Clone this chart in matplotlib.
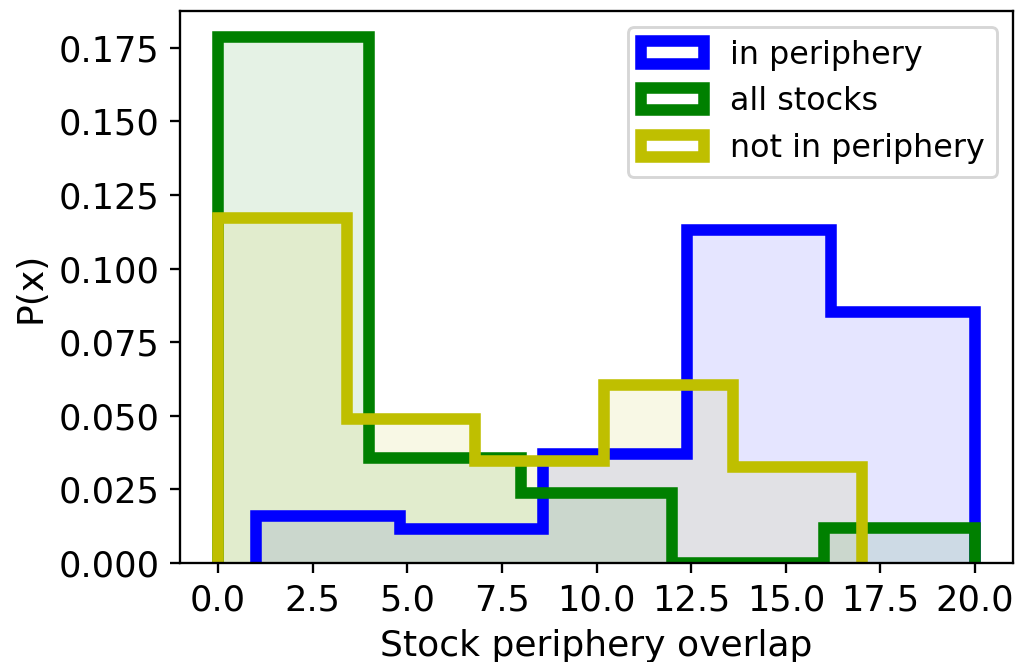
"""Periphery overlap histograms: in periphery vs all stocks vs not in periphery."""
import matplotlib
matplotlib.use("Agg")
import matplotlib.pyplot as plt
from matplotlib.ticker import MultipleLocator
import numpy as np

# bin edges and densities
IN_EDGES = [1.0, 4.8, 8.6, 12.4, 16.2, 20.0]
IN_VALS = [0.0161, 0.0115, 0.0369, 0.1130, 0.0853]

ALL_EDGES = [0.0, 4.0, 8.0, 12.0, 16.0, 20.0]
ALL_VALS = [0.1786, 0.0356, 0.0238, 0.0, 0.0119]

NOT_EDGES = [0.0, 3.4, 6.8, 10.2, 13.6, 17.0]
NOT_VALS = [0.1171, 0.0489, 0.0346, 0.0604, 0.0326]

SERIES = [
    ("in periphery", IN_EDGES, IN_VALS, "b"),
    ("all stocks", ALL_EDGES, ALL_VALS, "g"),
    ("not in periphery", NOT_EDGES, NOT_VALS, "y"),
]

DPI = 208
W, H = 1021, 662


def main() -> None:
    fig = plt.figure(figsize=(W / DPI, H / DPI), dpi=DPI)
    ax = fig.add_axes([180 / W, 1 - 563 / H, (1013 - 180) / W, (563 - 11) / H])

    for label, edges, vals, color in SERIES:
        edges = np.asarray(edges)
        x = edges[:-1]
        ax.hist(x, bins=edges, weights=vals, histtype="stepfilled",
                color=color, alpha=0.1)
        ax.hist(x, bins=edges, weights=vals, histtype="step",
                color=color, lw=4, label=label)

    ax.xaxis.set_major_locator(MultipleLocator(2.5))
    ax.yaxis.set_major_locator(MultipleLocator(0.025))
    ax.tick_params(labelsize=12.2)
    ax.set_xlabel("Stock periphery overlap", fontsize=12.5)
    ax.set_ylabel("P(x)", fontsize=12.5)
    ax.legend(loc="upper right", fontsize=11)

    fig.savefig("out.png", dpi=DPI)
    plt.close(fig)


if __name__ == "__main__":
    main()
